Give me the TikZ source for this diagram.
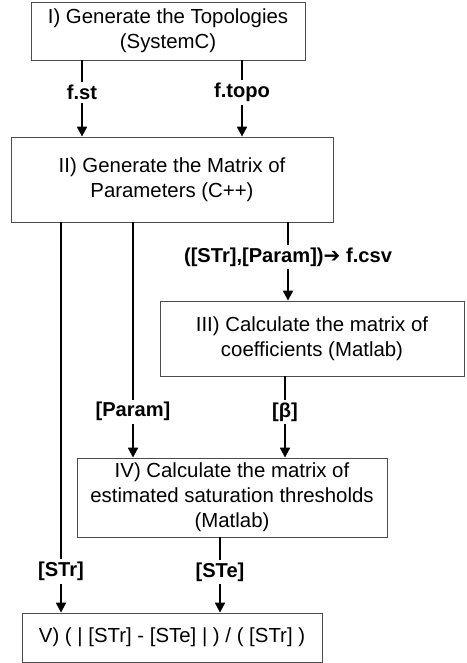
\documentclass[tikz,border=0pt]{standalone}
\usepackage{fontspec}
\setmainfont{Liberation Sans}
\newfontfamily\symfont{DejaVu Sans}
\usetikzlibrary{arrows.meta, positioning}

\begin{document}
\begin{tikzpicture}[
  stage/.style={draw=black!70, line width=0.6pt, rectangle, align=center,
                font=\fontsize{14.5}{17.8}\selectfont, inner sep=0pt},
  lbl/.style  ={fill=white, inner sep=2pt, font=\fontsize{14.3}{17}\selectfont\bfseries},
  arr/.style  ={-{Triangle[length=7pt, width=7pt]}, line width=1.4pt},
]
\useasboundingbox (0,0) rectangle (11.65,-16.575);

\node[stage, minimum width=6.85cm, minimum height=1.45cm]  (topo)  at (4.2,-0.775)
  {I) Generate the Topologies\\(SystemC)};
\node[stage, minimum width=8.05cm, minimum height=2.125cm] (param) at (4.3,-4.4875)
  {II) Generate the Matrix of\\Parameters (C++)};
\node[stage, minimum width=7.6cm, minimum height=1.875cm]  (coef)  at (7.8,-8.4625)
  {III) Calculate the matrix of\\coefficients (Matlab)};
\node[stage, minimum width=7.75cm, minimum height=1.975cm] (thres) at (5.8,-12.4375)
  {IV) Calculate the matrix of\\estimated saturation thresholds\\(Matlab)};
\node[stage, minimum width=7.5cm, minimum height=1.225cm]  (err)   at (4.3,-15.9375)
  {V) ( | [STr] - [STe] | ) / ( [STr] )};

\draw[arr] (topo.south -| 2.05,0)   -- node[lbl, pos=.42]{f.st}   (param.north -| 2.05,0);
\draw[arr] (topo.south -| 6.05,0)   -- node[lbl, pos=.42]{f.topo} (param.north -| 6.05,0);
\draw[arr] (param.south -| 7.2,0)   -- node[lbl, pos=.44]{([STr],[Param]){\symfont\bfseries ➔} f.csv} (coef.north -| 7.2,0);
\draw[arr] (param.south -| 3.325,0) -- node[lbl, pos=.805]{[Param]} (thres.north -| 3.325,0);
\draw[arr] (coef.south -| 7.125,0)  -- node[lbl, pos=.44]{[β]}    (thres.north -| 7.125,0);
\draw[arr] (param.south -| 1.525,0) -- node[lbl, pos=.895]{[STr]} (err.north -| 1.525,0);
\draw[arr] (thres.south -| 5.5,0)   -- node[lbl, pos=.46]{[STe]}  (err.north -| 5.5,0);
\end{tikzpicture}
\end{document}
